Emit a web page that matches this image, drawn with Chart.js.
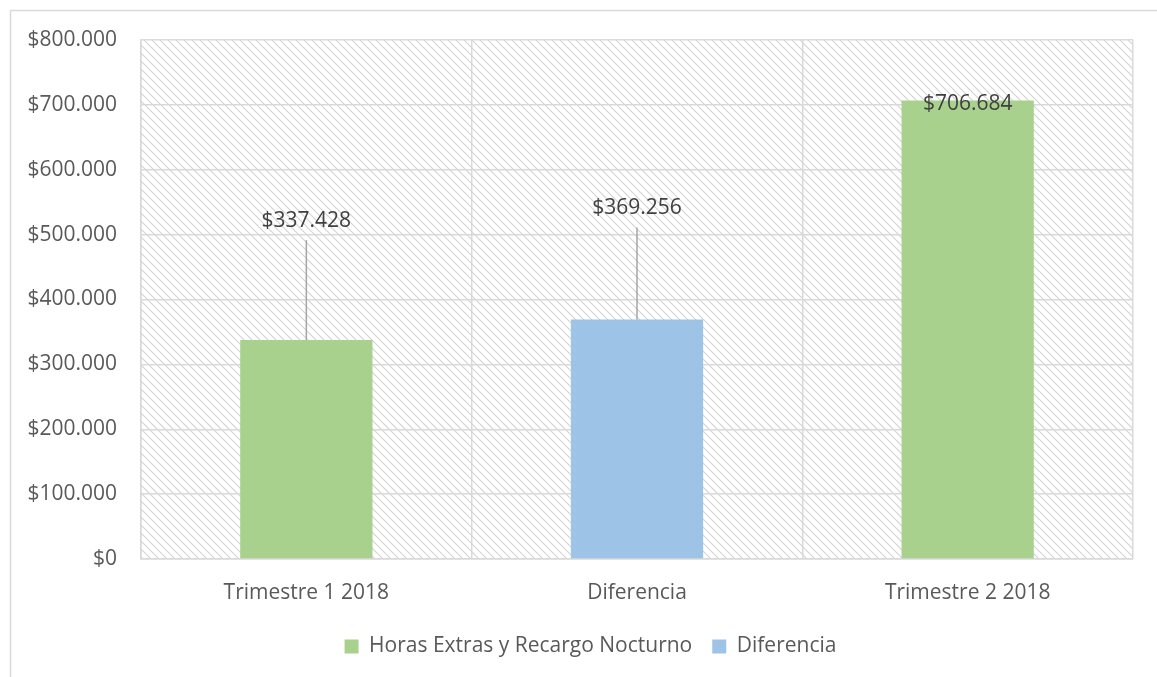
<!DOCTYPE html>
<html>
<head>
<meta charset="utf-8">
<script src="https://cdn.jsdelivr.net/npm/chart.js@4/dist/chart.umd.min.js"></script>
<style>
  html, body { margin: 0; padding: 0; background: #ffffff; }
  #wrap { width: 1157px; height: 677px; position: relative; }
</style>
</head>
<body>
<div id="wrap"><canvas id="chart"></canvas></div>
<script>
// Chart data
const categories = ['Trimestre 1 2018', 'Diferencia', 'Trimestre 2 2018'];
const horasExtras = [337428, null, 706684];
const diferencia = [null, 369256, null];
const seriesNames = ['Horas Extras y Recargo Nocturno', 'Diferencia'];
const yTicks = [0, 100000, 200000, 300000, 400000, 500000, 600000, 700000, 800000];

// label offsets above the bar top (Excel moved labels), px
const labelLift = [119, 111, -3];

const FONT = '"Open Sans", sans-serif';
const FSIZE = 21;
const GRID = '#d9d9d9';

function money(v) {
    return '$' + Math.round(v).toString().replace(/\B(?=(\d{3})+(?!\d))/g, '.');
}

// diagonal hatch for the plot background
function makeHatch() {
    const c = document.createElement('canvas');
    c.width = 8; c.height = 8;
    const g = c.getContext('2d');
    g.strokeStyle = '#d4d4d4';
    g.lineWidth = 1.2;
    g.beginPath();
    g.moveTo(-2, -2); g.lineTo(10, 10);
    g.moveTo(-2, 6); g.lineTo(2, 10);
    g.moveTo(6, -2); g.lineTo(10, 2);
    g.stroke();
    return c;
}

const backgroundPlugin = {
    id: 'bgHatch',
    afterUpdate(chart) {
        // centre the legend on the whole frame, not just the padded box
        const lg = chart.legend;
        if (lg) {
            lg.left += 24;
            lg.right += 24;
            lg.adjustHitBoxes();
        }
    },
    beforeDraw(chart) {
        const ctx = chart.ctx;
        const a = chart.chartArea;
        ctx.save();
        // outer chart frame (only top/left fall inside the picture)
        ctx.strokeStyle = GRID;
        ctx.lineWidth = 1.5;
        ctx.beginPath();
        ctx.moveTo(10.5, chart.height);
        ctx.lineTo(10.5, 10.5);
        ctx.lineTo(chart.width, 10.5);
        ctx.stroke();
        ctx.fillStyle = ctx.createPattern(makeHatch(), 'repeat');
        ctx.fillRect(a.left, a.top, a.right - a.left, a.bottom - a.top);
        ctx.restore();
    }
};

const labelPlugin = {
    id: 'barLabels',
    afterDatasetsDraw(chart) {
        const ctx = chart.ctx;
        ctx.save();
        ctx.font = FSIZE + 'px ' + FONT;
        ctx.fillStyle = '#404040';
        ctx.textAlign = 'center';
        ctx.textBaseline = 'middle';
        chart.data.datasets.forEach((ds, di) => {
            const meta = chart.getDatasetMeta(di);
            meta.data.forEach((bar, i) => {
                const v = ds.data[i];
                if (v === null) return;
                const ly = bar.y - labelLift[i];
                if (labelLift[i] > 30) {
                    ctx.strokeStyle = '#a6a6a6';
                    ctx.lineWidth = 1.5;
                    ctx.beginPath();
                    ctx.moveTo(bar.x, ly + 19);
                    ctx.lineTo(bar.x, bar.y);
                    ctx.stroke();
                }
                ctx.fillText(money(v), bar.x, ly);
            });
        });
        ctx.restore();
    }
};

const ctx = document.getElementById('chart').getContext('2d');
const chart = new Chart(ctx, {
    type: 'bar',
    data: {
        labels: categories,
        datasets: [{
            label: seriesNames[0],
            data: horasExtras,
            backgroundColor: '#a9d18e'
        }, {
            label: seriesNames[1],
            data: diferencia,
            backgroundColor: '#9dc3e6'
        }]
    },
    options: {
        responsive: true,
        maintainAspectRatio: false,
        animation: false,
        skipNull: true,
        categoryPercentage: 1,
        barPercentage: 0.4,
        layout: {
            padding: { top: 40, right: 24, bottom: 10, left: 0 }
        },
        scales: {
            x: {
                grid: { color: GRID, lineWidth: 1.5, drawTicks: false, offset: true },
                border: { color: GRID, width: 1.5 },
                ticks: { color: '#595959', font: { family: FONT, size: FSIZE }, padding: 21 },
                afterFit(scale) { scale.height = 57; }
            },
            y: {
                min: 0,
                max: 800000,
                afterBuildTicks(scale) { scale.ticks = yTicks.map(v => ({ value: v })); },
                grid: { color: GRID, lineWidth: 1.5, drawTicks: false },
                border: { color: GRID, width: 1.5 },
                ticks: {
                    color: '#595959',
                    font: { family: FONT, size: FSIZE },
                    padding: 24,
                    callback: v => money(v)
                },
                afterFit(scale) { scale.width = 141; }
            }
        },
        plugins: {
            legend: {
                position: 'bottom',
                labels: {
                    boxWidth: 14,
                    boxHeight: 14,
                    padding: 20,
                    color: '#595959',
                    font: { family: FONT, size: FSIZE }
                }
            },
            tooltip: { enabled: false }
        }
    },
    plugins: [backgroundPlugin, labelPlugin]
});
</script>
</body>
</html>
